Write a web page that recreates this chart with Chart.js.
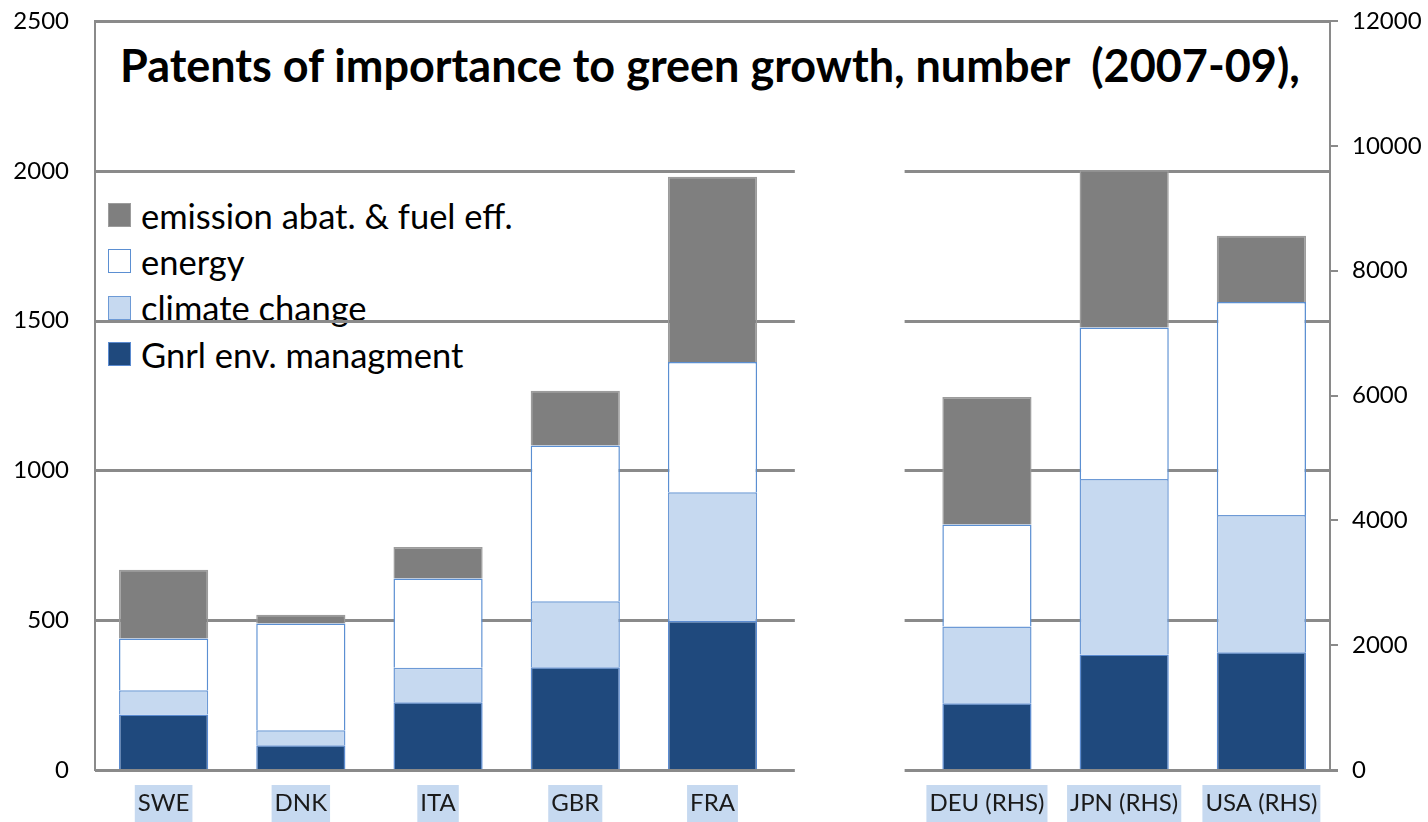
<!DOCTYPE html>
<html>
<head>
<meta charset="utf-8">
<script src="https://cdn.jsdelivr.net/npm/chart.js@4.4.0/dist/chart.umd.min.js"></script>
<style>
html, body { margin: 0; padding: 0; background: #ffffff; }
#wrap { position: relative; width: 1428px; height: 822px; overflow: hidden; background: #ffffff; }
#c { position: absolute; left: 0; top: 0; z-index: 2; }
#title { position: absolute; left: 120px; top: 42px; z-index: 1; font-family: Lato, sans-serif; font-weight: 700; font-size: 45px; line-height: 46px; white-space: pre; color: #000; }
#legend { position: absolute; left: 108px; top: 192px; z-index: 1; font-family: Lato, sans-serif; font-size: 34.5px; color: #000; }
#legend .row { height: 46.3px; display: flex; align-items: center; white-space: pre; }
#legend .sw { width: 23px; height: 24px; box-sizing: border-box; margin-right: 10px; flex: none; }
</style>
</head>
<body>
<div id="wrap">
  <div id="title">Patents of importance to green growth, number  (2007-09),</div>
  <div id="legend"></div>
  <canvas id="c" width="1428" height="822"></canvas>
</div>
<script>
// ---- data ----
const leftCountries = ['SWE', 'DNK', 'ITA', 'GBR', 'FRA'];
const rightCountries = ['DEU (RHS)', 'JPN (RHS)', 'USA (RHS)'];

// left-hand-scale countries (stack segments, bottom to top)
const leftGnrl     = [185, 83, 226, 343, 497];
const leftClimate  = [81, 50, 115, 220, 430];
const leftEnergy   = [173, 356, 298, 520, 435];
const leftEmission = [229, 29, 105, 183, 618];

// right-hand-scale countries
const rightGnrl     = [1068, 1849, 1886];
const rightClimate  = [1230, 2812, 2198];
const rightEnergy   = [1636, 2428, 3416];
const rightEmission = [2042, 2521, 1058];

const seriesNames = ['Gnrl env. managment', 'climate change', 'energy', 'emission abat. & fuel eff.'];

const leftTicks = { min: 0, max: 2500, step: 500 };
const rightTicks = { min: 0, max: 12000, step: 2000 };

// ---- styles ----
const fills   = ['#1f497d', '#c6d9f0', '#ffffff', '#7f7f7f'];
const borders = ['#5b8bd0', '#6d9ad6', '#5b8fd2', '#9c9c9c'];
const gridColor = '#8a8a8a';

// ---- build ----
const labels = [...leftCountries, '', ...rightCountries];
const gapCount = 1;
function padLeft(arr) { return [...arr, ...new Array(gapCount + rightCountries.length).fill(null)]; }
function padRight(arr) { return [...new Array(leftCountries.length + gapCount).fill(null), ...arr]; }

const leftSeries = [leftGnrl, leftClimate, leftEnergy, leftEmission];
const rightSeries = [rightGnrl, rightClimate, rightEnergy, rightEmission];

const datasets = [];
leftSeries.forEach((arr, i) => datasets.push({
  label: seriesNames[i], data: padLeft(arr), yAxisID: 'y', stack: 'g',
  backgroundColor: fills[i], borderColor: borders[i], borderWidth: 1.5,
  barPercentage: 0.65, categoryPercentage: 1.0
}));
rightSeries.forEach((arr, i) => datasets.push({
  label: seriesNames[i] + ' (RHS)', data: padRight(arr), yAxisID: 'y2', stack: 'g',
  backgroundColor: fills[i], borderColor: borders[i], borderWidth: 1.5,
  barPercentage: 0.65, categoryPercentage: 1.0
}));

// legend (top item = top of stack)
const legendEl = document.getElementById('legend');
for (let i = seriesNames.length - 1; i >= 0; i--) {
  const row = document.createElement('div');
  row.className = 'row';
  const sw = document.createElement('span');
  sw.className = 'sw';
  sw.style.background = fills[i];
  sw.style.border = '1px solid ' + borders[i];
  const tx = document.createElement('span');
  tx.textContent = seriesNames[i];
  row.appendChild(sw); row.appendChild(tx);
  legendEl.appendChild(row);
}

// split grid lines with a gap between the two country groups
const splitGrid = {
  id: 'splitGrid',
  _lines(chart, onlyZero) {
    const { ctx, chartArea } = chart;
    const ys = chart.scales.y, xs = chart.scales.x;
    const w = xs.getPixelForValue(1) - xs.getPixelForValue(0);
    const gc = xs.getPixelForValue(leftCountries.length);
    const gapL = gc - 0.4 * w, gapR = gc + 0.4 * w;
    ctx.save();
    ctx.strokeStyle = gridColor;
    ctx.lineWidth = 3;
    ys.ticks.forEach(t => {
      const isZero = t.value === ys.min;
      if (onlyZero !== isZero) return;
      const py = Math.round(ys.getPixelForValue(t.value)) + 0.5;
      ctx.beginPath();
      if (t.value === ys.max) {
        ctx.moveTo(chartArea.left, py); ctx.lineTo(chartArea.right, py);
      } else {
        ctx.moveTo(chartArea.left, py); ctx.lineTo(gapL, py);
        ctx.moveTo(gapR, py); ctx.lineTo(chartArea.right + (isZero ? 8 : 0), py);
      }
      ctx.stroke();
    });
    ctx.restore();
  },
  beforeDatasetsDraw(chart) { this._lines(chart, false); },
  afterDatasetsDraw(chart) { this._lines(chart, true); }
};

Chart.defaults.font.family = 'Lato, sans-serif';
Chart.defaults.color = '#000';

const plainNumber = (v) => String(v);

new Chart(document.getElementById('c'), {
  type: 'bar',
  data: { labels, datasets },
  plugins: [splitGrid],
  options: {
    responsive: false,
    animation: false,
    devicePixelRatio: 1,
    layout: { padding: { top: 21, left: 0, right: 0, bottom: 0 } },
    plugins: { legend: { display: false }, tooltip: { enabled: false }, title: { display: false } },
    scales: {
      x: {
        stacked: true,
        grid: { display: false },
        border: { display: false },
        ticks: {
          autoSkip: false, maxRotation: 0, padding: 11,
          font: { size: 24 }, color: '#1a1a1a',
          showLabelBackdrop: (ctx) => !!(ctx.tick && ctx.tick.label),
          backdropColor: '#c6d9f0',
          backdropPadding: { top: 4, bottom: 8, left: 3, right: 3 }
        },
        afterFit(s) { s.height = 52; s.paddingLeft = 0; s.paddingRight = 0; }
      },
      y: {
        position: 'left',
        stacked: true,
        min: leftTicks.min, max: leftTicks.max,
        grid: { display: false },
        border: { display: true, color: gridColor, width: 2 },
        ticks: { stepSize: leftTicks.step, padding: 18, font: { size: 24 }, callback: plainNumber },
        afterFit(s) { s.width = 95; s.paddingTop = 0; s.paddingBottom = 0; }
      },
      y2: {
        position: 'right',
        stacked: true,
        min: rightTicks.min, max: rightTicks.max,
        grid: { drawOnChartArea: false, drawTicks: true, tickLength: 8, color: gridColor, lineWidth: 2 },
        border: { display: true, color: gridColor, width: 2 },
        ticks: { stepSize: rightTicks.step, padding: 14, font: { size: 24 }, callback: plainNumber },
        afterFit(s) { s.width = 98; s.paddingTop = 0; s.paddingBottom = 0; }
      }
    }
  }
});
</script>
</body>
</html>
